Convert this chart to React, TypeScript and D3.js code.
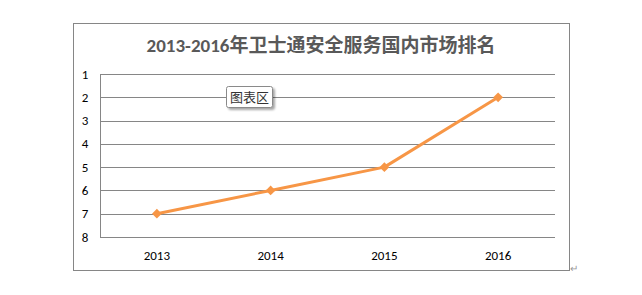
import React from "react";
import * as d3 from "d3";

const years = ["2013", "2014", "2015", "2016"];
const ranks = [7, 6, 5, 2];
const yTicks = [1, 2, 3, 4, 5, 6, 7, 8];
const title = "2013-2016年卫士通安全服务国内市场排名";

export default function App() {
  const W = 642, H = 295;
  const left = 100, right = 555, top = 74, bottom = 237;
  const x = d3.scaleBand<string>().domain(years).range([left, right]);
  const y = d3.scaleLinear().domain([1, 8]).range([top, bottom]);
  const line = d3
    .line<number>()
    .x((_, i) => (x(years[i]) as number) + x.bandwidth() / 2)
    .y((d) => y(d));
  const diamond = d3.symbol().type(d3.symbolDiamond2).size(60)() as string;
  const font = "Calibri, Carlito, 'Liberation Sans', 'Noto Sans CJK SC', sans-serif";
  return (
    <svg width={W} height={H} style={{ position: "absolute", left: 0, top: 0 }}>
      <defs>
        <filter id="sh" x="-20%" y="-20%" width="150%" height="160%">
          <feDropShadow dx="2" dy="2" stdDeviation="1.2" floodColor="#000" floodOpacity="0.35" />
        </filter>
      </defs>
      <rect x={0} y={0} width={W} height={H} fill="#fff" />
      <rect x={73.5} y={23.5} width={496} height={247} fill="#fff" stroke="#868686" strokeWidth={1} />
      <text x={321} y={52} textAnchor="middle" fontFamily={font} fontWeight="bold" fontSize={19} fill="#595959">
        {title}
      </text>
      {yTicks.map((t) => (
        <g key={t}>
          <line x1={left} x2={right} y1={Math.round(y(t)) + 0.5} y2={Math.round(y(t)) + 0.5} stroke="#868686" strokeWidth={1} />
          <text x={85} y={y(t) + 4.5} textAnchor="middle" fontFamily={font} fontSize={13} fill="#000">
            {t}
          </text>
        </g>
      ))}
      <line x1={left + 0.5} x2={left + 0.5} y1={top} y2={bottom} stroke="#868686" strokeWidth={1} />
      {years.map((yr) => (
        <text key={yr} x={(x(yr) as number) + x.bandwidth() / 2} y={259.5} textAnchor="middle" fontFamily={font} fontSize={13} fill="#000">
          {yr}
        </text>
      ))}
      <path d={line(ranks) as string} fill="none" stroke="#F79646" strokeWidth={3} strokeLinejoin="round" />
      {ranks.map((r, i) => (
        <path
          key={i}
          d={diamond}
          transform={`translate(${(x(years[i]) as number) + x.bandwidth() / 2},${y(r)})`}
          fill="#F79646"
        />
      ))}
      <g filter="url(#sh)">
        <rect x={226.5} y={86.5} width={46} height={21} rx={2} fill="#fff" stroke="#8a8a8a" strokeWidth={1} />
      </g>
      <text x={249.5} y={101.5} textAnchor="middle" fontFamily={font} fontSize={13} fill="#333">
        图表区
      </text>
      <text x={570} y={272} fontFamily={font} fontSize={10} fill="#999">
        ↵
      </text>
    </svg>
  );
}
